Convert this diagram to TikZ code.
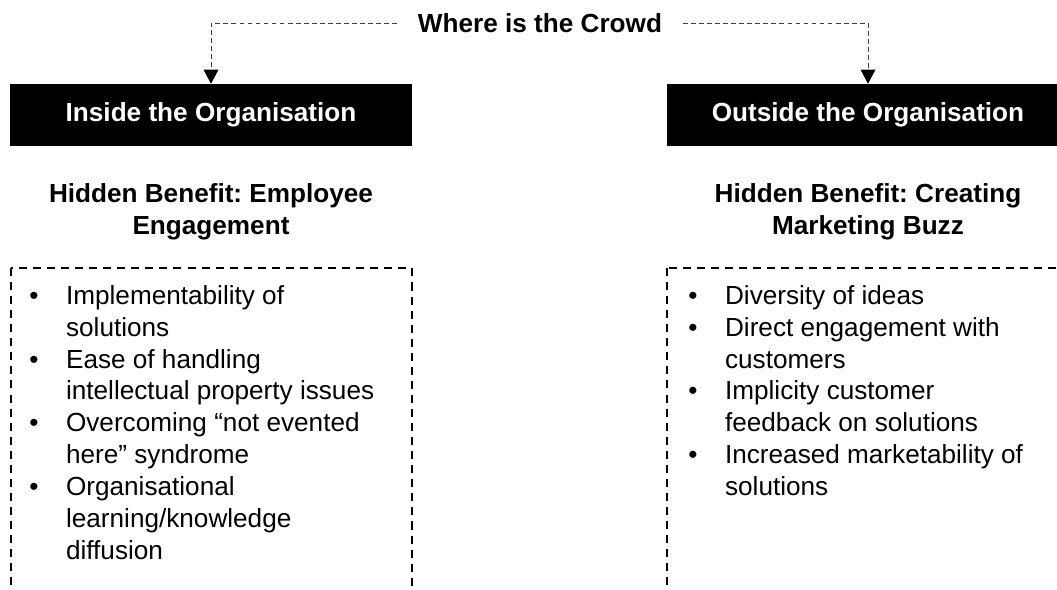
\documentclass[tikz,border=0pt]{standalone}
\usepackage{fontspec}
\setmainfont{Liberation Sans}
\usetikzlibrary{arrows.meta}
\frenchspacing

\newcommand{\bulit}{\makebox[0.92cm][l]{\textbullet}}% bullet and its gap
\newcommand{\bulcont}{\hspace*{0.92cm}}% wrapped line of an item

\begin{document}
\begin{tikzpicture}[
    every node/.style={font=\fontsize{18.6}{22.7}\selectfont},
    header/.style={fill=black, text=white, inner sep=0pt,
      font=\fontsize{18.6}{22.7}\selectfont\bfseries,
      minimum width=10.05cm, minimum height=1.55cm},
    subhead/.style={align=center, inner sep=0pt,
      font=\fontsize{18.6}{22.7}\selectfont\bfseries},
    items/.style={align=left, anchor=north west, inner sep=0pt},
    benefits/.style={line width=1.8pt, dash pattern=on 5.7pt off 4.3pt},
    link/.style={draw=black!75, line width=0.7pt, dash pattern=on 3.5pt off 2.2pt,
      -{Triangle[length=10pt,width=10.5pt,color=black]}}
  ]
    \useasboundingbox (0,0) rectangle (26.425,-14.725);
    \clip (0,0) rectangle (26.425,-14.725);

    \node[font=\fontsize{18.6}{22.7}\selectfont\bfseries, inner xsep=0.525cm, inner ysep=0pt]
      (crowd) at (13.5,-0.575) {Where is the Crowd};

    \node[header] (inside) at (5.275,-2.875) {Inside the Organisation};
    \node[header] (outside) at (21.7,-2.875) {Outside the Organisation};
    \draw[link] (crowd.west) -| (inside.north);
    \draw[link] (crowd.east) -| (outside.north);

    \node[subhead] (hiddenin) at (5.275,-5.29) {Hidden Benefit: Employee\\Engagement};
    \node[subhead] (hiddenout) at (21.7,-5.29) {Hidden Benefit: Creating\\Marketing Buzz};

    % dashed boxes run off the bottom edge
    \draw[benefits] (0.275,-6.7) rectangle (10.3,-15.5);
    \draw[benefits] (16.675,-6.7) rectangle (27.5,-15.5);

    \node[items] (listin) at (0.725,-7.125) {%
      \bulit Implementability of\\
      \bulcont solutions\\
      \bulit Ease of handling\\
      \bulcont intellectual property issues\\
      \bulit Overcoming “not evented\\
      \bulcont here” syndrome\\
      \bulit Organisational\\
      \bulcont learning/knowledge\\
      \bulcont diffusion};
    \node[items] (listout) at (17.2,-7.125) {%
      \bulit Diversity of ideas\\
      \bulit Direct engagement with\\
      \bulcont customers\\
      \bulit Implicity customer\\
      \bulcont feedback on solutions\\
      \bulit Increased marketability of\\
      \bulcont solutions};
  \end{tikzpicture}
\end{document}
